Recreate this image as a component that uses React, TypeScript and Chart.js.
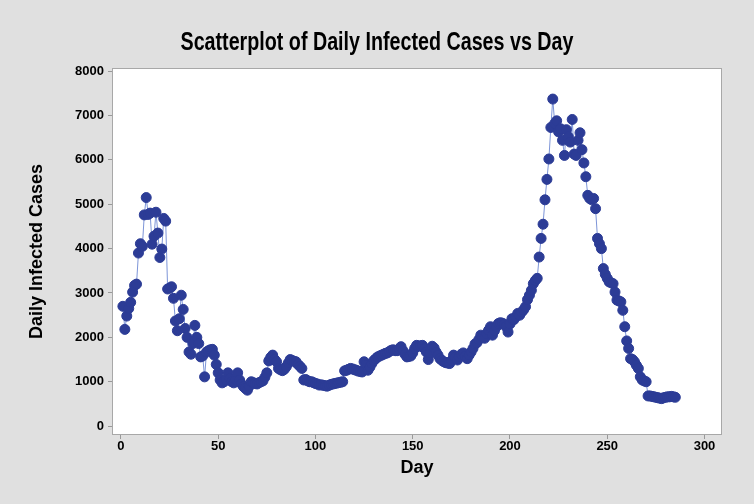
import { useEffect, useRef } from "react";
import { Chart, registerables } from "chart.js";

Chart.register(...registerables);

// Daily infected cases, day 1 .. 285
const cases: number[] = [
  2700, 2180, 2480, 2650, 2790, 3020, 3170, 3200, 3900, 4110,
  4050, 4760, 5150, 4770, 4800, 4100, 4280, 4820, 4350, 3800,
  3990, 4680, 4620, 3090, 3110, 3140, 2880, 2370, 2150, 2420,
  2950, 2630, 2200, 2000, 1670, 1620, 1860, 2270, 2000, 1860,
  1560, 1580, 1110, 1670, 1700, 1720, 1730, 1600, 1390, 1200,
  1040, 975, 1000, 1050, 1200, 1070, 1000, 975, 1050, 1200,
  1040, 950, 890, 850, 810, 900, 1000, 980, 960, 950,
  980, 1000, 1020, 1100, 1200, 1470, 1550, 1600, 1500, 1450,
  1300, 1270, 1250, 1280, 1340, 1420, 1500, 1480, 1460, 1450,
  1390, 1350, 1300, 1040, 1050, 1020, 1000, 1000, 980, 960,
  950, 925, 930, 920, 910, 900, 920, 940, 950, 960,
  970, 980, 990, 1000, 1245, 1260, 1280, 1300, 1290, 1270,
  1260, 1240, 1230, 1220, 1450, 1380, 1260, 1330, 1410, 1480,
  1520, 1560, 1580, 1600, 1620, 1640, 1650, 1680, 1710, 1720,
  1700, 1700, 1740, 1790, 1700, 1620, 1560, 1570, 1580, 1650,
  1750, 1820, 1800, 1810, 1820, 1750, 1670, 1500, 1650, 1800,
  1760, 1670, 1600, 1520, 1480, 1450, 1430, 1420, 1410, 1480,
  1600, 1550, 1490, 1560, 1620, 1650, 1580, 1520, 1600, 1670,
  1750, 1850, 1880, 1950, 2050, 2010, 1980, 2080, 2160, 2240,
  2050, 2150, 2240, 2310, 2330, 2320, 2300, 2240, 2120, 2300,
  2420, 2400, 2460, 2540, 2500, 2570, 2620, 2690, 2850, 2950,
  3060, 3210, 3280, 3330, 3810, 4230, 4550, 5100, 5560, 6020,
  6730, 7370, 6820, 6880, 6630, 6700, 6440, 6100, 6680, 6520,
  6400, 6910, 6130, 6100, 6440, 6610, 6230, 5930, 5620, 5200,
  5130, 5100, 5130, 4900, 4230, 4110, 4000, 3550, 3420, 3330,
  3250, 3230, 3210, 3020, 2840, 2820, 2800, 2610, 2240, 1920,
  1750, 1520, 1500, 1450, 1370, 1300, 1110, 1040, 1020, 1000,
  680, 680, 670, 660, 650, 640, 630, 620, 640, 650,
  660, 660, 670, 660, 650,
];

const xTickValues = [0, 50, 100, 150, 200, 250, 300];
const yTickValues = [0, 1000, 2000, 3000, 4000, 5000, 6000, 7000, 8000];

const titleText = "Scatterplot of Daily Infected Cases vs Day";
const xTitle = "Day";
const yTitle = "Daily Infected Cases";

const FONT = "'Liberation Sans', Arial, sans-serif";

const bgPlugin = {
  id: "bgPlugin",
  beforeDraw(chart: any) {
    const { ctx, chartArea: a, width, height } = chart;
    ctx.save();
    ctx.fillStyle = "#e0e0e0";
    ctx.fillRect(0, 0, width, height);
    ctx.fillStyle = "#ffffff";
    ctx.fillRect(a.left, a.top, a.right - a.left, a.bottom - a.top);
    ctx.strokeStyle = "#a8a8a8";
    ctx.lineWidth = 1;
    ctx.strokeRect(Math.round(a.left) + 0.5, Math.round(a.top) + 0.5, Math.round(a.right - a.left) - 1, Math.round(a.bottom - a.top) - 1);
    ctx.restore();
  },
};

// Condensed-looking title, drawn as real canvas text
const titlePlugin = {
  id: "condensedTitle",
  afterDraw(chart: any) {
    const { ctx, width } = chart;
    ctx.save();
    ctx.font = `bold 25px ${FONT}`;
    ctx.fillStyle = "#000";
    ctx.textBaseline = "alphabetic";
    ctx.textAlign = "center";
    const w = ctx.measureText(titleText).width;
    const sx = Math.min(1, 393 / w);
    ctx.translate(width / 2, 50);
    ctx.scale(sx, 1);
    ctx.fillText(titleText, 0, 0);
    ctx.restore();
  },
};

export default function App() {
  const ref = useRef<HTMLCanvasElement | null>(null);

  useEffect(() => {
    if (!ref.current) return;
    const points = cases.map((v, i) => ({ x: i + 1, y: v }));
    const chart = new Chart(ref.current, {
      type: "scatter",
      data: {
        datasets: [
          {
            data: points,
            showLine: true,
            borderColor: "#7d95d8",
            borderWidth: 1,
            pointBackgroundColor: "#2c3c96",
            pointBorderColor: "#2c3c96",
            pointBorderWidth: 1,
            pointRadius: 5,
            pointHoverRadius: 5,
          },
        ],
      },
      options: {
        animation: false,
        responsive: true,
        maintainAspectRatio: false,
        layout: { padding: { left: 0, right: 32, top: 68, bottom: 0 } },
        plugins: {
          legend: { display: false },
          tooltip: { enabled: false },
          title: { display: false },
        },
        scales: {
          x: {
            type: "linear",
            min: -4.6,
            max: 309,
            afterBuildTicks: (axis: any) => {
              axis.ticks = xTickValues.map((v) => ({ value: v }));
            },
            afterFit: (axis: any) => {
              axis.height = 69;
            },
            ticks: {
              color: "#000",
              font: { family: FONT, size: 13, weight: "bold" },
              padding: 0,
              maxRotation: 0,
              autoSkip: false,
              callback: (v: any) => String(v),
            },
            grid: { drawOnChartArea: false, drawTicks: true, tickLength: 4, color: "#999" },
            border: { display: false },
            title: {
              display: true,
              text: xTitle,
              color: "#000",
              font: { family: FONT, size: 18, weight: "bold" },
              padding: { top: 0, bottom: 25 },
            },
          },
          y: {
            type: "linear",
            min: -200,
            max: 8070,
            afterBuildTicks: (axis: any) => {
              axis.ticks = yTickValues.map((v) => ({ value: v }));
            },
            afterFit: (axis: any) => {
              axis.width = 112;
            },
            ticks: {
              color: "#000",
              font: { family: FONT, size: 13, weight: "bold" },
              padding: 4,
              autoSkip: false,
              callback: (v: any) => String(v),
            },
            grid: { drawOnChartArea: false, drawTicks: true, tickLength: 4, color: "#999" },
            border: { display: false },
            title: {
              display: true,
              text: yTitle,
              color: "#000",
              font: { family: FONT, size: 18, weight: "bold" },
              padding: { top: 26, bottom: 0 },
            },
          },
        },
      },
      plugins: [bgPlugin, titlePlugin],
    } as any);
    return () => chart.destroy();
  }, []);

  return (
    <div style={{ position: "absolute", left: 0, top: 0, width: 754, height: 504 }}>
      <canvas ref={ref} />
    </div>
  );
}
